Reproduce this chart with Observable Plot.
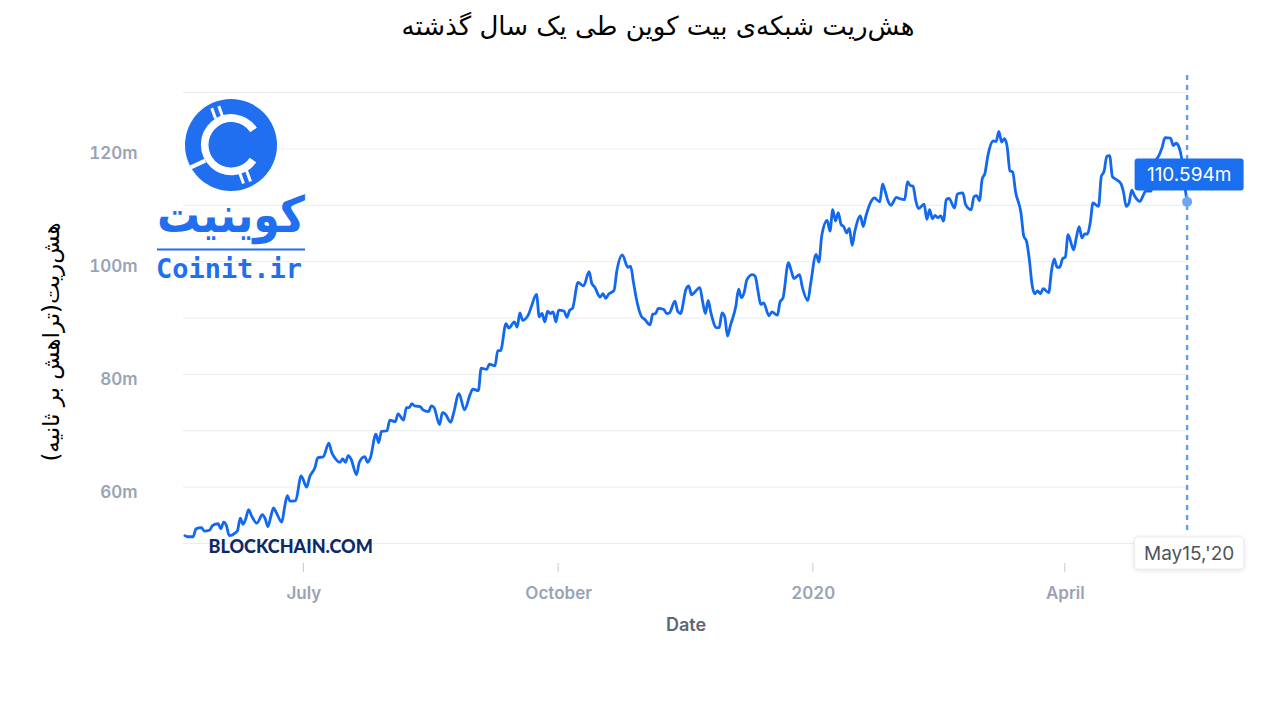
<!DOCTYPE html>
<html>
<head>
<meta charset="utf-8">
<script src="https://cdn.jsdelivr.net/npm/d3@7"></script>
<script src="https://cdn.jsdelivr.net/npm/@observablehq/plot@0.6"></script>
<style>
  body { margin: 0; background: #fff; }
  #wrap { position: relative; width: 1280px; height: 720px; overflow: hidden; background: #fff; font-family: Inter, "DejaVu Sans", sans-serif; }
  #title { position: absolute; left: 18px; top: 11px; width: 1280px; text-align: center; font-family: "DejaVu Sans", sans-serif; font-size: 26px; color: #000; direction: rtl; }
  #chart { position: absolute; left: 0; top: 60px; }
  #ylabel { position: absolute; left: 51px; top: 342px; transform: translate(-50%, -50%) rotate(-90deg); white-space: nowrap; direction: rtl; font-family: "DejaVu Sans", sans-serif; font-size: 23px; color: #000; }
  #logo { position: absolute; left: 0; top: 0; pointer-events: none; }
  #chart g[aria-label="y-axis tick label"] text,
  #chart g[aria-label="x-axis tick label"] text { fill: #9aa3b5; font-size: 17px; font-weight: 600; font-family: Inter, sans-serif; }
  #chart g[aria-label="x-axis label"] text { fill: #5d6678; font-size: 18px; font-weight: 600; font-family: Inter, sans-serif; }
  #chart g[aria-label="x-axis tick"] { transform: translate(0px, 20px); stroke: #c5cad3; }
</style>
</head>
<body>
<div id="wrap">
  <div id="title">هش‌ریت شبکه‌ی بیت کوین طی یک سال گذشته</div>
  <div id="chart"></div>
  <div id="ylabel">هش‌ریت(تراهش بر ثانیه)</div>
  <svg id="logo" width="1280" height="720" viewBox="0 0 1280 720">
    <circle cx="231" cy="145" r="46" fill="#1f6ff0"/>
    <path d="M 253.5 130 A 26.5 26.5 0 1 0 253 160" fill="none" stroke="#fff" stroke-width="8"/>
    <circle cx="231" cy="145" r="22.5" fill="#1f6ff0"/>
    <rect x="212" y="108" width="3" height="11" fill="#fff" transform="rotate(-20 213 113)"/>
    <rect x="219" y="106" width="3" height="11" fill="#fff" transform="rotate(-20 220 111)"/>
    <rect x="240" y="172" width="3" height="12" fill="#fff" transform="rotate(-20 241 178)"/>
    <rect x="247" y="170" width="3" height="12" fill="#fff" transform="rotate(-20 248 176)"/>
    <rect x="190" y="162" width="16" height="4" fill="#fff" transform="rotate(-25 198 164)"/>
    <text x="231" y="232" text-anchor="middle" font-family="DejaVu Sans" font-weight="bold" font-size="50" fill="#1f6ff0" textLength="148" lengthAdjust="spacingAndGlyphs" direction="rtl">کوینیت</text>
    <line x1="157" y1="249.5" x2="305" y2="249.5" stroke="#1f6ff0" stroke-width="2"/>
    <text x="229" y="278" text-anchor="middle" font-family="'DejaVu Sans Mono', 'Liberation Mono', monospace" font-weight="bold" font-size="27" fill="#1f6ff0" textLength="146" lengthAdjust="spacingAndGlyphs">Coinit.ir</text>
  </svg>
</div>
<script>
// ---- data (hash rate, millions TH/s) ----
const dates = [
"2019-05-19","2019-05-20","2019-05-22","2019-05-23","2019-05-25","2019-05-26","2019-05-28","2019-05-29","2019-05-31",
"2019-06-01","2019-06-02","2019-06-03","2019-06-04","2019-06-06","2019-06-07","2019-06-08","2019-06-09","2019-06-10","2019-06-11","2019-06-12","2019-06-14","2019-06-16","2019-06-17","2019-06-18","2019-06-19","2019-06-20","2019-06-21","2019-06-23","2019-06-24","2019-06-25","2019-06-26","2019-06-28","2019-06-30",
"2019-07-02","2019-07-03","2019-07-05","2019-07-06","2019-07-08","2019-07-10","2019-07-11","2019-07-12","2019-07-14","2019-07-15","2019-07-16","2019-07-17","2019-07-18","2019-07-20","2019-07-21","2019-07-23","2019-07-24","2019-07-25","2019-07-27","2019-07-28","2019-07-29","2019-07-31",
"2019-08-01","2019-08-03","2019-08-04","2019-08-06","2019-08-07","2019-08-08","2019-08-09","2019-08-10","2019-08-12","2019-08-13","2019-08-15","2019-08-16","2019-08-17","2019-08-19","2019-08-20","2019-08-21","2019-08-23","2019-08-24","2019-08-26","2019-08-28","2019-08-30","2019-08-31",
"2019-09-02","2019-09-03","2019-09-05","2019-09-06","2019-09-08","2019-09-09","2019-09-10","2019-09-12","2019-09-13","2019-09-15","2019-09-16","2019-09-17","2019-09-18","2019-09-20","2019-09-21","2019-09-23","2019-09-24","2019-09-25","2019-09-26","2019-09-27","2019-09-28","2019-09-29","2019-09-30",
"2019-10-01","2019-10-03","2019-10-04","2019-10-05","2019-10-06","2019-10-08","2019-10-10","2019-10-12","2019-10-13","2019-10-14","2019-10-16","2019-10-17","2019-10-18","2019-10-19","2019-10-21","2019-10-22","2019-10-24","2019-10-26","2019-10-27","2019-10-28","2019-10-29","2019-10-31",
"2019-11-01","2019-11-03","2019-11-04","2019-11-05","2019-11-06","2019-11-08","2019-11-09","2019-11-10","2019-11-12","2019-11-13","2019-11-14","2019-11-16","2019-11-17","2019-11-18","2019-11-19","2019-11-21","2019-11-22","2019-11-23","2019-11-24","2019-11-25","2019-11-27","2019-11-28","2019-11-29","2019-11-30",
"2019-12-01","2019-12-02","2019-12-04","2019-12-05","2019-12-06","2019-12-07","2019-12-08","2019-12-10","2019-12-11","2019-12-12","2019-12-13","2019-12-14","2019-12-16","2019-12-17","2019-12-19","2019-12-20","2019-12-21","2019-12-23","2019-12-24","2019-12-25","2019-12-27","2019-12-28","2019-12-30","2019-12-31",
"2020-01-02","2020-01-03","2020-01-04","2020-01-06","2020-01-07","2020-01-08","2020-01-09","2020-01-10","2020-01-11","2020-01-12","2020-01-13","2020-01-14","2020-01-15","2020-01-16","2020-01-18","2020-01-19","2020-01-20","2020-01-22","2020-01-23","2020-01-25","2020-01-26","2020-01-27","2020-01-28","2020-01-29","2020-01-31",
"2020-02-01","2020-02-03","2020-02-04","2020-02-05","2020-02-06","2020-02-07","2020-02-08","2020-02-10","2020-02-11","2020-02-12","2020-02-13","2020-02-14","2020-02-15","2020-02-16","2020-02-17","2020-02-18","2020-02-19","2020-02-21","2020-02-22","2020-02-24","2020-02-25","2020-02-27","2020-02-28","2020-02-29",
"2020-03-01","2020-03-02","2020-03-03","2020-03-04","2020-03-06","2020-03-07","2020-03-08","2020-03-09","2020-03-10","2020-03-11","2020-03-12","2020-03-13","2020-03-14","2020-03-16","2020-03-17","2020-03-18","2020-03-19","2020-03-20","2020-03-21","2020-03-22","2020-03-23","2020-03-24","2020-03-26","2020-03-27","2020-03-28","2020-03-29","2020-03-30","2020-03-31",
"2020-04-01","2020-04-02","2020-04-04","2020-04-05","2020-04-06","2020-04-07","2020-04-08","2020-04-09","2020-04-10","2020-04-11","2020-04-13","2020-04-14","2020-04-15","2020-04-16","2020-04-17","2020-04-18","2020-04-19","2020-04-21","2020-04-22","2020-04-23","2020-04-24","2020-04-25","2020-04-26","2020-04-28","2020-04-29","2020-04-30",
"2020-05-02","2020-05-03","2020-05-05","2020-05-06","2020-05-07","2020-05-09","2020-05-10","2020-05-11","2020-05-12","2020-05-13","2020-05-14","2020-05-15"
];
const hashrate = [
51.4,51.2,51.2,52.6,52.8,52.2,52.4,53.2,53.5,
52.6,53.8,53.2,51.4,51.8,52.3,54.5,53.4,54.4,56.0,55.0,53.6,55.1,54.4,53.0,54.7,56.3,55.5,53.8,56.4,58.5,57.5,57.6,62.0,
60.0,61.7,63.5,65.2,65.4,67.8,66.2,65.3,64.4,65.0,64.4,65.6,65.0,62.2,64.4,65.4,64.4,65.2,69.4,67.9,69.9,70.0,
71.9,71.6,73.0,71.9,74.1,74.1,74.8,74.4,74.3,73.7,73.4,74.4,74.1,71.1,73.2,73.0,71.5,73.0,76.6,73.7,76.4,77.4,
77.1,81.1,80.9,81.8,81.5,84.2,84.2,89.0,88.2,89.3,88.4,90.9,89.6,90.5,91.8,94.2,90.2,90.8,89.3,91.2,90.8,91.1,89.3,
91.4,91.2,90.1,91.4,91.7,96.3,95.7,98.2,96.1,95.5,93.7,94.3,93.5,94.2,94.9,98.3,101.2,99.0,99.2,96.4,93.6,90.2,
89.8,88.8,90.7,90.8,91.7,91.5,90.8,90.9,93.0,91.2,90.8,95.1,95.7,94.1,94.5,95.4,92.9,90.8,93.1,90.9,88.3,88.3,90.9,90.2,
86.8,88.6,92.1,95.1,93.6,94.5,96.8,97.7,97.4,94.8,92.4,92.7,90.4,91.1,90.5,92.9,93.5,99.8,98.4,97.0,97.7,95.5,93.1,96.0,
101.3,99.9,104.5,107.3,105.4,109.2,107.2,108.7,106.6,106.2,105.1,105.9,102.9,105.4,108.1,106.2,108.1,110.8,111.3,110.6,113.8,112.4,110.7,110.0,111.4,
111.2,111.0,114.2,113.5,113.4,110.8,109.4,110.2,107.5,109.2,107.6,108.2,107.8,108.1,107.2,111.0,111.2,109.5,112.0,112.2,110.1,109.2,111.5,111.7,
110.8,114.7,115.7,118.7,121.4,121.3,123.1,121.2,121.8,120.4,116.1,115.9,112.5,108.6,104.5,103.6,100.4,95.9,94.3,94.8,94.3,95.2,94.5,98.3,100.5,99.0,99.0,100.5,
100.8,104.8,102.1,104.3,106.2,104.2,104.9,104.9,106.9,110.4,109.8,115.1,116.0,118.7,118.8,115.1,114.7,113.9,112.4,109.8,110.4,112.7,111.7,110.7,111.6,112.5,
112.5,117.2,119.0,120.3,122.0,121.9,120.6,121.0,120.4,118.4,114.0,110.594
];
const yGridValues = [50, 60, 70, 80, 90, 100, 110, 120, 130];
const yTickValues = [60, 80, 100, 120];
const xTickDates = ["2019-07-01", "2019-10-01", "2020-01-01", "2020-04-01"];
const xTickLabels = ["July", "October", "2020", "April"];
const xDomain = ["2019-05-18T12:00Z", "2020-05-15T12:00Z"];
const yDomain = [50, 130];

// ---- build ----
const data = dates.map((d, i) => ({date: new Date(d), value: hashrate[i]}));
const last = [data[data.length - 1]];
const tickMap = new Map(xTickDates.map((d, i) => [+new Date(d), xTickLabels[i]]));
const valueText = d => d.value.toFixed(3) + "m";
const dateText = d => d3.utcFormat("%b%d,'%y")(d.date);

const chart = Plot.plot({
  width: 1280,
  height: 660,
  marginLeft: 183,
  marginRight: 92,
  marginTop: 32,
  marginBottom: 177,
  style: {fontFamily: "Inter, sans-serif", background: "transparent", overflow: "visible"},
  x: {type: "utc", domain: xDomain.map(d => new Date(d))},
  y: {domain: yDomain},
  marks: [
    Plot.gridY(yGridValues, {stroke: "#e9ecf1", strokeOpacity: 1, strokeWidth: 1}),
    Plot.axisY(yTickValues, {tickSize: 0, tickPadding: 46, dy: 5, tickFormat: d => d + "m", label: null}),
    Plot.axisX(xTickDates.map(d => new Date(d)), {
      tickSize: 9, tickPadding: 34,
      tickFormat: d => tickMap.get(+d),
      label: "Date", labelAnchor: "center", labelArrow: "none", labelOffset: 87
    }),
    Plot.text(["BLOCKCHAIN.COM"], {frameAnchor: "bottom-left", dx: 25, dy: 9, textAnchor: "start",
      fill: "#0e2a66", fontSize: 18, fontWeight: 900, fontFamily: "Lato, sans-serif"}),
    Plot.lineY(data, {x: "date", y: "value", stroke: "#1268ef", strokeWidth: 2.8, curve: "monotone-x", strokeLinejoin: "round"}),
    Plot.ruleX(last, {x: "date", stroke: "#5b9ff0", strokeWidth: 2.4, strokeDasharray: "5,5", insetTop: -17, insetBottom: 13}),
    Plot.dot(last, {x: "date", y: "value", r: 5, fill: "#6aa6f2"}),
    Plot.text(last, {x: "date", y: "value", text: valueText, dy: -27, dx: 2, fill: "#ffffff", fontSize: 19, fontFamily: "Inter, sans-serif"}),
    Plot.text(last, {x: "date", frameAnchor: "bottom", dy: 16, dx: 2, text: dateText, fill: "#4f5359", fontSize: 19, fontFamily: "Inter, sans-serif"})
  ]
});
document.getElementById("chart").appendChild(chart);

// boxes behind the hover labels (same transform as the text element)
function boxBehind(label, fill, stroke, w, h) {
  chart.querySelectorAll("text").forEach(t => {
    if (t.textContent === label) {
      const b = t.getBBox();
      const cx = b.x + b.width / 2, cy = b.y + b.height / 2;
      const r = document.createElementNS("http://www.w3.org/2000/svg", "rect");
      r.setAttribute("x", cx - w / 2);
      r.setAttribute("y", cy - h / 2);
      r.setAttribute("width", w);
      r.setAttribute("height", h);
      r.setAttribute("rx", 3);
      r.setAttribute("fill", fill);
      const tr = t.getAttribute("transform");
      if (tr) r.setAttribute("transform", tr);
      if (stroke) { r.setAttribute("stroke", stroke); r.style.filter = "drop-shadow(0px 1px 2px rgba(0,0,0,0.12))"; }
      t.parentNode.insertBefore(r, t);
    }
  });
}
boxBehind(valueText(last[0]), "#1a6ef0", null, 109, 32);
boxBehind(dateText(last[0]), "#ffffff", "#eceef1", 109, 32);
</script>
</body>
</html>
